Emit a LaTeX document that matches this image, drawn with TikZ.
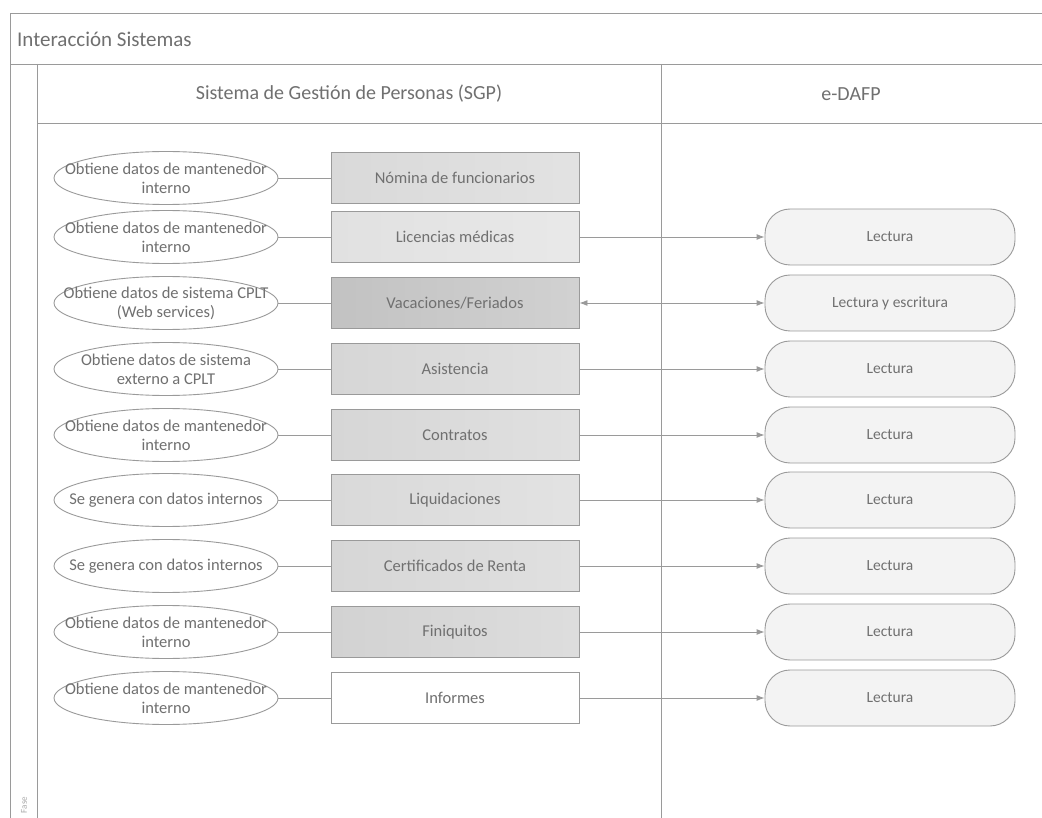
\documentclass[tikz,border=0pt]{standalone}
\usepackage{fontspec}
\setmainfont{Carlito}
\usetikzlibrary{arrows.meta,shapes.geometric}
\definecolor{ln}{HTML}{9A9A9A}
\definecolor{tx}{HTML}{707070}
\definecolor{rfill}{HTML}{F3F3F3}
\tikzset{
  frameline/.style={draw=ln, line width=0.9pt},
  ell/.style={ellipse, draw=ln, fill=white, line width=0.9pt, minimum width=224pt, minimum height=53pt, inner sep=0pt},
  elltext/.style={align=center, text=tx, inner sep=0pt, font=\fontsize{16.5}{19}\selectfont},
  sgpbox/.style={rectangle, draw=ln, line width=0.9pt, minimum width=248pt, minimum height=51pt, inner sep=0pt, text=tx, font=\fontsize{16.5}{19}\selectfont},
  dafp/.style={rectangle, rounded corners=25pt, draw=ln, fill=rfill, line width=0.9pt, minimum width=250pt, minimum height=56pt, inner sep=0pt, text=tx, font=\fontsize{15.5}{18}\selectfont},
  link/.style={draw=ln, line width=0.9pt},
  flow/.style={draw=ln, line width=0.9pt, -{Latex[length=8pt,width=6pt]}},
  flow2/.style={draw=ln, line width=0.9pt, {Latex[length=8pt,width=6pt]}-{Latex[length=8pt,width=6pt]}},
}
\begin{document}
\begin{tikzpicture}[x=1pt,y=-1pt]
\useasboundingbox (0,0) rectangle (1042,818);
\fill[white] (0,0) rectangle (1042,818);
% frame
\draw[frameline] (1042,13) -- (10,13) -- (10,818);
\draw[frameline] (10,64) -- (1042,64);
\draw[frameline] (37,64) -- (37,818);
\draw[frameline] (37,123) -- (1042,123);
\draw[frameline] (661,64) -- (661,818);
\node[anchor=west, text=tx, font=\fontsize{21}{24}\selectfont, inner sep=0pt] (title) at (17,39) {Interacción Sistemas};
\node[text=tx, font=\fontsize{20}{23}\selectfont] (hsgp) at (349,94) {Sistema de Gestión de Personas (SGP)};
\node[text=tx, font=\fontsize{20}{23}\selectfont] (hdafp) at (851,94) {e-DAFP};
\node[rotate=90, text=tx!60, font=\fontsize{9}{10}\selectfont] (fase) at (24,805) {Fase};
% rows
\foreach \n/\y/\et/\bt/\bcol in {
  1/178/{Obtiene datos de mantenedor\\interno}/{Nómina de funcionarios}/D9D9D9,
  2/237/{Obtiene datos de mantenedor\\interno}/{Licencias médicas}/E1E1E1,
  3/303/{Obtiene datos de sistema CPLT\\(Web services)}/{Vacaciones/Feriados}/C2C2C2,
  4/369/{Obtiene datos de sistema\\externo a CPLT}/{Asistencia}/D6D6D6,
  5/435/{Obtiene datos de mantenedor\\interno}/{Contratos}/D6D6D6,
  6/500/{Se genera con datos internos}/{Liquidaciones}/D9D9D9,
  7/566/{Se genera con datos internos}/{Certificados de Renta}/D6D6D6,
  8/632/{Obtiene datos de mantenedor\\interno}/{Finiquitos}/D2D2D2,
  9/698/{Obtiene datos de mantenedor\\interno}/{Informes}/FFFFFF}{
  \definecolor{bfc}{HTML}{\bcol}
  \node[ell] (e\n) at (166,\y) {};
  \node[elltext] (et\n) at (e\n.center) {\et};
  \node[sgpbox, left color=bfc, right color=bfc!75!white] (b\n) at (455,\y) {\bt};
  \draw[link] (e\n) -- (b\n);
}
\foreach \n/\y/\t in {2/237/Lectura,3/303/Lectura y escritura,4/369/Lectura,5/435/Lectura,6/500/Lectura,7/566/Lectura,8/632/Lectura,9/698/Lectura}{
  \node[dafp] (d\n) at (890,\y) {\t};
}
\draw[flow] (b2) -- (d2);
\draw[flow2] (b3) -- (d3);
\foreach \n in {4,5,6,7,8,9}{\draw[flow] (b\n) -- (d\n);}
\end{tikzpicture}
\end{document}
